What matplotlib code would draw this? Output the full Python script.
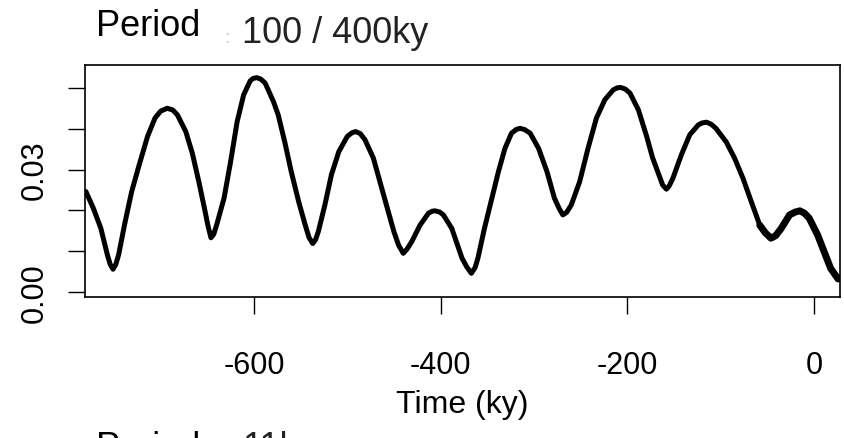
# import library
import matplotlib
matplotlib.use("Agg")
import matplotlib.pyplot as plt

# series (time in ky, spectral power)
time_ky = [-780, -772, -764, -757, -754, -751, -748, -745, -738, -731,
           -723, -714, -706, -700, -693, -687, -682, -673, -666, -659,
           -653, -649, -646, -643, -640, -632, -625, -618, -611, -604,
           -601, -597, -593, -588, -579, -574, -567, -560, -552, -545,
           -541, -537, -534, -531, -524, -517, -509, -500, -495, -491,
           -486, -481, -472, -465, -458, -450, -445, -440, -436, -431,
           -422, -413, -409, -406, -401, -397, -388, -377, -372, -367,
           -363, -360, -353, -345, -338, -331, -324, -319, -315, -310,
           -304, -295, -286, -278, -273, -269, -265, -260, -251, -242,
           -233, -224, -215, -211, -207, -202, -197, -188, -179, -173,
           -165, -162, -158, -155, -151, -142, -133, -124, -120, -115,
           -110, -105, -94, -85, -76, -67, -58, -52, -46, -41,
           -35, -26, -20, -15, -10, -5, 4, 11, 18, 26]
power = [0.0246, 0.0205, 0.0156, 0.0091, 0.0068, 0.0056, 0.0068, 0.0091, 0.0172, 0.0246,
         0.0311, 0.0381, 0.0426, 0.0443, 0.0450, 0.0446, 0.0434, 0.0393, 0.0340, 0.0270,
         0.0205, 0.0160, 0.0133, 0.0142, 0.0164, 0.0230, 0.0319, 0.0417, 0.0483, 0.0517,
         0.0523, 0.0525, 0.0522, 0.0512, 0.0466, 0.0434, 0.0368, 0.0295, 0.0221, 0.0164,
         0.0134, 0.0119, 0.0128, 0.0148, 0.0213, 0.0287, 0.0344, 0.0381, 0.0390, 0.0393,
         0.0388, 0.0373, 0.0328, 0.0270, 0.0213, 0.0148, 0.0115, 0.0095, 0.0105, 0.0123,
         0.0164, 0.0193, 0.0198, 0.0199, 0.0196, 0.0189, 0.0156, 0.0083, 0.0062, 0.0046,
         0.0060, 0.0083, 0.0156, 0.0230, 0.0295, 0.0352, 0.0389, 0.0398, 0.0401, 0.0398,
         0.0389, 0.0352, 0.0295, 0.0230, 0.0205, 0.0189, 0.0195, 0.0213, 0.0270, 0.0352,
         0.0426, 0.0471, 0.0495, 0.0500, 0.0501, 0.0497, 0.0487, 0.0446, 0.0380, 0.0330,
         0.0280, 0.0262, 0.0252, 0.0260, 0.0279, 0.0336, 0.0385, 0.0409, 0.0414, 0.0416,
         0.0411, 0.0401, 0.0368, 0.0328, 0.0279, 0.0221, 0.0164, 0.0145, 0.0132, 0.0138,
         0.0156, 0.0189, 0.0196, 0.0199, 0.0193, 0.0181, 0.0140, 0.0099, 0.0058, 0.0032]

x_ticks = [-600, -400, -200, 0]
x_tick_labels = ["-600", "-400", "-200", "0"]
y_ticks = [0.00, 0.01, 0.02, 0.03, 0.04, 0.05]
y_tick_labels = ["0.00", "", "", "0.03", "", ""]

plt.rcParams["font.family"] = ["Liberation Sans", "DejaVu Sans"]

W, H = 844, 439
fig = plt.figure(figsize=(W / 100, H / 100), dpi=100)
ax = fig.add_axes([85 / W, 1 - 298 / H, (840 - 85) / W, (298 - 66) / H])

ax.plot(time_ky, power, color="black", linewidth=3.6,
        solid_capstyle="round", solid_joinstyle="round")
# the last stretch is drawn heavier in the original
n_end = time_ky.index(-58)
ax.plot(time_ky[n_end:], power[n_end:], color="black", linewidth=5.0,
        solid_capstyle="round", solid_joinstyle="round")

ax.set_xlim(-781, 28)
ax.set_ylim(-0.0012, 0.0556)

ax.set_xticks(x_ticks)
ax.set_xticklabels(x_tick_labels)
ax.set_yticks(y_ticks)
ax.set_yticklabels(y_tick_labels, rotation=90, va="center")

for side in ax.spines.values():
    side.set_linewidth(1.2)
ax.tick_params(axis="both", length=12.5, width=1.0, labelsize=22, colors="black")
ax.tick_params(axis="x", pad=26)
ax.tick_params(axis="y", pad=13)

ax.set_xlabel("Time (ky)", fontsize=23)
ax.xaxis.set_label_coords(0.5, (298 - 405) / (298 - 66))
ax.xaxis.label.set_va("center")

# panel titles (the lower one is cut by the figure edge, as in the original)
fig.text(96 / W, 1 - 36 / H, "Period", fontsize=26, ha="left", va="baseline")
fig.text(224 / W, 1 - 43 / H, ":", fontsize=14, color="#c8c8c8", ha="left", va="baseline")
fig.text(242 / W, 1 - 43 / H, "100 / 400ky", fontsize=26, color="#222222",
         ha="left", va="baseline")
fig.text(96 / W, 1 - 458 / H, "Period", fontsize=26, ha="left", va="baseline")
fig.text(224 / W, 1 - 460 / H, ":", fontsize=14, color="#c8c8c8", ha="left", va="baseline")
fig.text(242 / W, 1 - 458 / H, "11k", fontsize=26, color="#222222",
         ha="left", va="baseline")

fig.savefig("out.png", dpi=100)
